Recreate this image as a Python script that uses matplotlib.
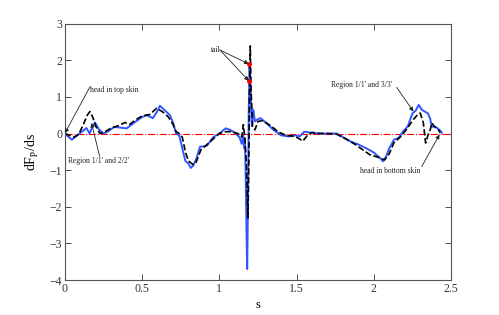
import numpy as np
import matplotlib
matplotlib.use('Agg')
import matplotlib.pyplot as plt

plt.rcParams['font.family'] = ['Liberation Serif', 'DejaVu Serif']
plt.rcParams['mathtext.fontset'] = 'stix'

# blue solid curve
s_blue = [0, 0.02, 0.045, 0.08, 0.11, 0.14, 0.16, 0.175, 0.195, 0.22, 0.25, 0.28, 0.32, 0.36,
          0.40, 0.45, 0.50, 0.53, 0.57, 0.60, 0.615, 0.64, 0.68, 0.70, 0.72, 0.74, 0.76, 0.78,
          0.80, 0.815, 0.83, 0.85, 0.875, 0.90, 0.92, 0.96, 1.00, 1.04, 1.07, 1.10, 1.13, 1.145,
          1.155, 1.16, 1.165, 1.17, 1.175, 1.18, 1.185, 1.19, 1.195, 1.20, 1.21, 1.22, 1.23,
          1.245, 1.265, 1.30, 1.35, 1.40, 1.45, 1.49, 1.52, 1.55, 1.60, 1.65, 1.70, 1.76, 1.80,
          1.85, 1.90, 1.95, 2.00, 2.04, 2.06, 2.08, 2.10, 2.13, 2.16, 2.19, 2.22, 2.25, 2.27,
          2.29, 2.31, 2.33, 2.35, 2.365, 2.375, 2.39, 2.41, 2.43, 2.44]
v_blue = [0, -0.08, -0.17, -0.05, 0.05, 0.15, 0.0, 0.15, 0.30, 0.12, 0.0, 0.06, 0.18, 0.16,
          0.14, 0.30, 0.45, 0.50, 0.42, 0.62, 0.76, 0.66, 0.50, 0.30, 0.00, -0.05, -0.40, -0.75,
          -0.82, -0.94, -0.88, -0.70, -0.36, -0.35, -0.33, -0.10, 0.00, 0.14, 0.10, 0.02, -0.10, -0.28,
          -0.05, -0.40, -0.15, -1.0, -2.5, -3.7, -2.0, 0.5, 1.9, 1.5, 0.2, 0.65, 0.33,
          0.38, 0.42, 0.30, 0.10, -0.05, -0.08, -0.05, -0.08, 0.05, 0.02, 0.0, 0.0, 0.0, -0.10,
          -0.22, -0.30, -0.40, -0.52, -0.67, -0.76, -0.62, -0.40, -0.17, -0.12, 0.06, 0.20, 0.55, 0.62,
          0.78, 0.65, 0.60, 0.55, 0.40, 0.19, 0.18, 0.15, 0.08, 0.02]

# black dashed curve
s_black = [0, 0.03, 0.06, 0.09, 0.12, 0.145, 0.162, 0.18, 0.20, 0.227, 0.26, 0.30, 0.35, 0.389,
           0.42, 0.46, 0.50, 0.55, 0.594, 0.63, 0.67, 0.70, 0.72, 0.74, 0.76, 0.78, 0.80, 0.83,
           0.85, 0.88, 0.92, 0.96, 1.00, 1.04, 1.08, 1.12, 1.145, 1.155, 1.165, 1.175, 1.185, 1.19,
           1.195, 1.20, 1.205, 1.215, 1.23, 1.25, 1.28, 1.33, 1.38, 1.43, 1.49, 1.52, 1.54, 1.57,
           1.60, 1.65, 1.70, 1.76, 1.82, 1.88, 1.93, 1.975, 2.03, 2.07, 2.10, 2.13, 2.17, 2.21,
           2.25, 2.28, 2.30, 2.32, 2.335, 2.35, 2.365, 2.375, 2.39, 2.41, 2.43]
v_black = [0, -0.05, -0.10, -0.02, 0.25, 0.50, 0.60, 0.45, 0.20, 0.0, 0.05, 0.15, 0.22, 0.30,
           0.25, 0.38, 0.48, 0.52, 0.69, 0.60, 0.45, 0.25, 0.05, 0.00, -0.10, -0.50, -0.75, -0.85,
           -0.78, -0.45, -0.30, -0.15, 0.00, 0.05, 0.05, 0.00, -0.10, 0.24, -0.10, -0.8, -2.3, -1.0,
           1.0, 2.39, 1.2, 0.2, 0.10, 0.33, 0.35, 0.22, 0.05, -0.05, -0.08, -0.15, -0.21, -0.05,
           0.03, 0.0, 0.0, -0.02, -0.15, -0.30, -0.45, -0.58, -0.65, -0.72, -0.55, -0.25, -0.10, 0.10,
           0.35, 0.50, 0.56, 0.30, -0.26, -0.05, 0.10, 0.29, 0.20, 0.15, 0.02]

# red points at the tail
s_tail = [1.194, 1.194]
v_tail = [1.90, 1.44]

# annotations: label, text position, arrow start, arrow tip
notes = [
    ('head in top skin', (0.165, 1.19), (0.162, 1.27), (0.0, 0.01)),
    ("Region 1/1' and 2/2'", (0.02, -0.74), (0.225, -0.62), (0.172, 0.29)),
    ('tail', (0.945, 2.28), (1.004, 2.28), (1.19, 1.90)),
    ('', None, (1.004, 2.28), (1.19, 1.44)),
    ("Region 1/1' and 3/3'", (1.72, 1.33), (2.148, 1.26), (2.256, 0.6)),
    ('head in bottom skin', (1.91, -1.03), (2.31, -0.9), (2.425, -0.03)),
]

fig = plt.figure(figsize=(4.99, 3.15), dpi=100)
ax = fig.add_axes([0.130, 0.111, 0.774, 0.814])

ax.axhline(0, color='red', linestyle='-.', linewidth=0.8)
ax.plot(s_blue, v_blue, color='#3355ff', linewidth=1.4)
ax.plot(s_black, v_black, color='black', linestyle='--', linewidth=1.2)
ax.plot(s_tail, v_tail, 'o', color='red', markersize=2.5)

ax.set_xlim(0, 2.5)
ax.set_ylim(-4, 3)
ax.set_xticks([0, 0.5, 1, 1.5, 2, 2.5])
ax.set_xticklabels(['0', '0.5', '1', '1.5', '2', '2.5'])
ax.set_yticks([-4, -3, -2, -1, 0, 1, 2, 3])
ax.set_yticklabels(['\u22124', '\u22123', '\u22122', '\u22121', '0', '1', '2', '3'])
ax.tick_params(direction='in', top=True, right=True, length=4, width=0.6,
               labelsize=8.5, colors='#333333', pad=2)
for sp in ax.spines.values():
    sp.set_color('#555555')
    sp.set_linewidth(0.8)

ax.set_xlabel('s', fontsize=9, labelpad=3)
ax.set_ylabel(r'dF$_{\rm p}$/ds', fontsize=10, labelpad=6)

for label, tpos, start, tip in notes:
    if tpos is not None:
        ax.text(tpos[0], tpos[1], label, fontsize=5.5, ha='left', va='center', color='#222222')
    ax.annotate('', xy=tip, xytext=start,
                arrowprops=dict(arrowstyle='-|>', color='#222222', lw=0.6,
                                mutation_scale=6, shrinkA=0, shrinkB=0))

fig.savefig('out.png', dpi=100)
